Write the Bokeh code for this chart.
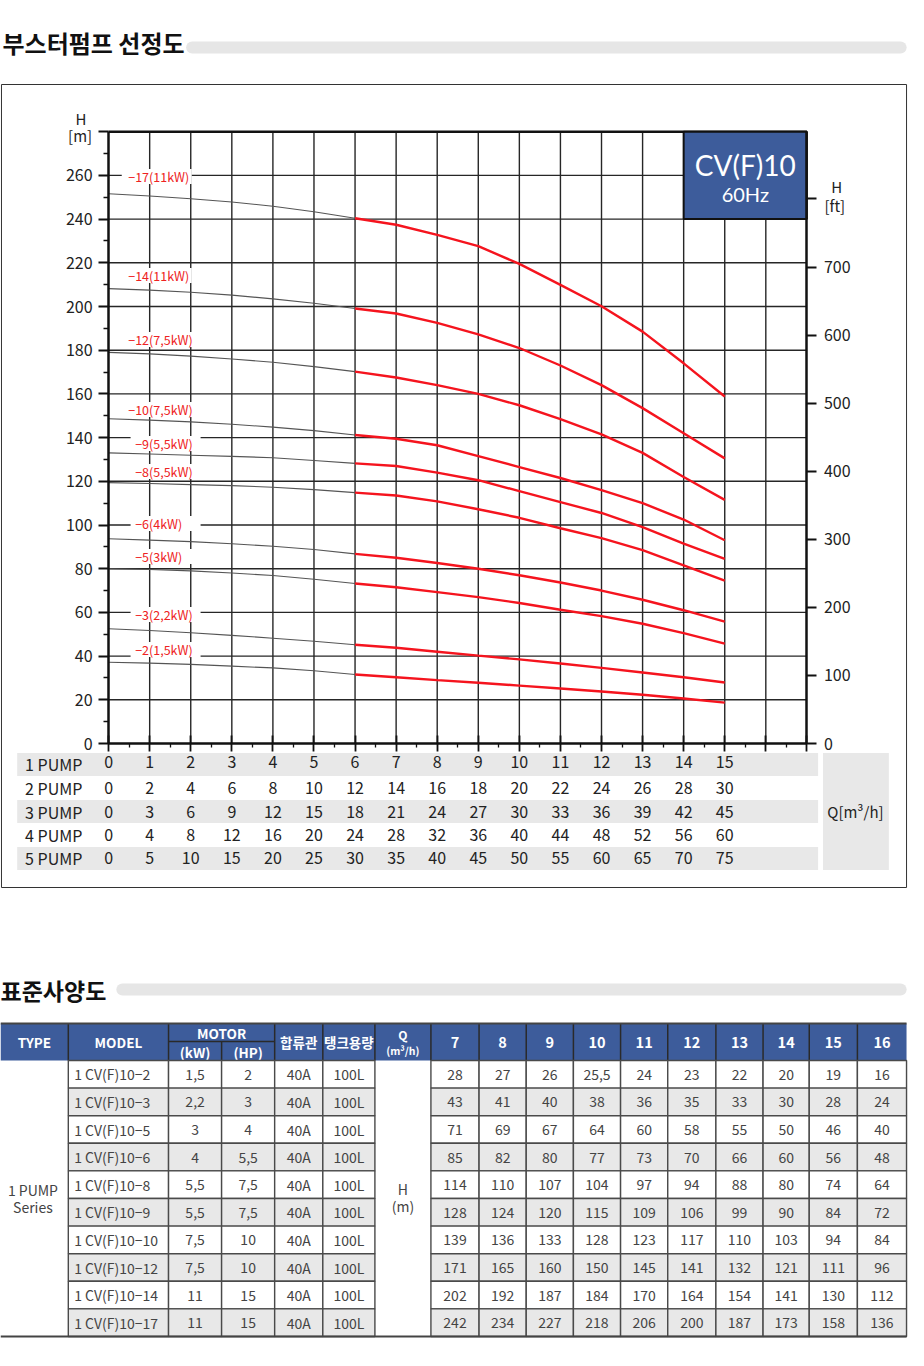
from bokeh.plotting import figure
from bokeh.models import Range1d, LinearAxis, FixedTicker
from bokeh.layouts import column
from bokeh.embed import file_html
from bokeh.resources import INLINE
from bokeh.core.properties import value

FONT = "Noto Sans CJK KR"
BOX_FONT = "Lato"

# ---------------- data ----------------
q_axis_ticks = [0, 1, 2, 3, 4, 5, 6, 7, 8, 9, 10, 11, 12, 13, 14, 15, 16, 17]
q_minor_ticks = [0.5, 1.5, 2.5, 3.5, 4.5, 5.5, 6.5, 7.5, 8.5, 9.5, 10.5, 11.5, 12.5, 13.5, 14.5, 15.5, 16.5]
h_m_ticks = [0, 20, 40, 60, 80, 100, 120, 140, 160, 180, 200, 220, 240, 260, 280]
h_m_minor = [10, 30, 50, 70, 90, 110, 130, 150, 170, 190, 210, 230, 250, 270]
h_ft_ticks = [0, 100, 200, 300, 400, 500, 600, 700, 800]

pump_labels = ["1 PUMP", "2 PUMP", "3 PUMP", "4 PUMP", "5 PUMP"]
pump1_q = [0, 1, 2, 3, 4, 5, 6, 7, 8, 9, 10, 11, 12, 13, 14, 15]
pump2_q = [0, 2, 4, 6, 8, 10, 12, 14, 16, 18, 20, 22, 24, 26, 28, 30]
pump3_q = [0, 3, 6, 9, 12, 15, 18, 21, 24, 27, 30, 33, 36, 39, 42, 45]
pump4_q = [0, 4, 8, 12, 16, 20, 24, 28, 32, 36, 40, 44, 48, 52, 56, 60]
pump5_q = [0, 5, 10, 15, 20, 25, 30, 35, 40, 45, 50, 55, 60, 65, 70, 75]

q_low = [0, 1, 2, 3, 4, 5, 6]
q_high = [6, 7, 8, 9, 10, 11, 12, 13, 14, 15]

h17_low = [251.6, 250.6, 249.3, 247.8, 245.9, 243.4, 240.4]
h17_high = [240.4, 237.4, 232.8, 227.6, 219.5, 209.9, 200.1, 188.5, 174.0, 158.8]
h14_low = [208.2, 207.5, 206.5, 205.2, 203.5, 201.5, 199.1]
h14_high = [199.1, 196.8, 192.5, 187.2, 181.0, 173.0, 164.0, 153.5, 142.0, 130.5]
h12_low = [179.0, 178.3, 177.3, 176.0, 174.5, 172.5, 170.2]
h12_high = [170.2, 167.5, 164.0, 160.0, 154.8, 148.5, 141.5, 133.0, 122.0, 111.5]
h10_low = [148.6, 148.0, 147.2, 146.1, 144.8, 143.2, 141.2]
h10_high = [141.2, 139.5, 136.5, 131.5, 126.5, 121.5, 116.0, 110.0, 102.5, 93.0]
h9_low = [133.0, 132.5, 131.9, 131.4, 130.8, 129.5, 128.2]
h9_high = [128.2, 127.0, 124.0, 120.5, 115.5, 110.5, 105.5, 99.0, 91.5, 84.5]
h8_low = [119.4, 119.0, 118.5, 118.0, 117.3, 116.2, 114.8]
h8_high = [114.8, 113.5, 110.8, 107.2, 103.3, 98.5, 94.0, 88.5, 81.5, 74.5]
h6_low = [93.7, 93.1, 92.4, 91.4, 90.3, 88.8, 86.8]
h6_high = [86.8, 85.0, 82.6, 80.0, 77.0, 73.7, 70.0, 65.8, 61.0, 55.8]
h5_low = [80.0, 79.6, 79.0, 78.0, 76.9, 75.2, 73.2]
h5_high = [73.2, 71.5, 69.3, 67.0, 64.3, 61.2, 58.3, 54.8, 50.5, 45.7]
h3_low = [52.5, 51.7, 50.7, 49.5, 48.2, 46.8, 45.2]
h3_high = [45.2, 43.8, 42.0, 40.2, 38.5, 36.6, 34.6, 32.5, 30.3, 27.9]
h2_low = [37.2, 36.8, 36.2, 35.4, 34.6, 33.3, 31.6]
h2_high = [31.6, 30.3, 29.0, 27.8, 26.5, 25.2, 23.8, 22.3, 20.6, 18.7]

curve_labels = ["−17(11kW)", "−14(11kW)", "−12(7,5kW)", "−10(7,5kW)", "−9(5,5kW)",
                "−8(5,5kW)", "−6(4kW)", "−5(3kW)", "−3(2,2kW)", "−2(1,5kW)"]

# table data
tbl_models = ["1 CV(F)10−2", "1 CV(F)10−3", "1 CV(F)10−5", "1 CV(F)10−6", "1 CV(F)10−8",
              "1 CV(F)10−9", "1 CV(F)10−10", "1 CV(F)10−12", "1 CV(F)10−14", "1 CV(F)10−17"]
tbl_kw = ["1,5", "2,2", "3", "4", "5,5", "5,5", "7,5", "7,5", "11", "11"]
tbl_hp = ["2", "3", "4", "5,5", "7,5", "7,5", "10", "10", "15", "15"]
tbl_pipe = ["40A"] * 10
tbl_tank = ["100L"] * 10
tbl_q = ["7", "8", "9", "10", "11", "12", "13", "14", "15", "16"]
tbl_h2 = ["28", "27", "26", "25,5", "24", "23", "22", "20", "19", "16"]
tbl_h3 = ["43", "41", "40", "38", "36", "35", "33", "30", "28", "24"]
tbl_h5 = ["71", "69", "67", "64", "60", "58", "55", "50", "46", "40"]
tbl_h6 = ["85", "82", "80", "77", "73", "70", "66", "60", "56", "48"]
tbl_h8 = ["114", "110", "107", "104", "97", "94", "88", "80", "74", "64"]
tbl_h9 = ["128", "124", "120", "115", "109", "106", "99", "90", "84", "72"]
tbl_h10 = ["139", "136", "133", "128", "123", "117", "110", "103", "94", "84"]
tbl_h12 = ["171", "165", "160", "150", "145", "141", "132", "121", "111", "96"]
tbl_h14 = ["202", "192", "187", "184", "170", "164", "154", "141", "130", "112"]
tbl_h17 = ["242", "234", "227", "218", "206", "200", "187", "173", "158", "136"]

# ---------------- layout helpers ----------------
W = 908
H1 = 905
QPX0, QPX, HPX0, HPX = 110.0, 41.8, 743.0, 2.185
FT_PER_M = 3.21
BLUE = "#3d5c9b"
RED = "#f5141e"
GREY_BG = "#e8e8e8"


def qx(px):
    return (px - QPX0) / QPX


def hy(py):
    return (HPX0 - py) / HPX


# ---------------- figure 1: chart ----------------
p = figure(width=W, height=H1, x_range=Range1d(qx(0), qx(924)), y_range=Range1d(hy(H1), hy(0)),
           x_axis_type=None, y_axis_type=None, output_backend="svg", toolbar_location=None,
           min_border=0, min_border_left=0, min_border_right=0, min_border_top=0, min_border_bottom=0,
           outline_line_color=None, background_fill_color="white", border_fill_color="white")
p.extra_y_ranges = {"ft": Range1d(hy(H1) * FT_PER_M, hy(0) * FT_PER_M)}

# heading
p.text(x=[qx(2)], y=[hy(42)], text=["부스터펌프 선정도"], text_font=value(FONT), text_font_size="24px",
       text_font_style="bold", text_color="#111111", text_baseline="middle", text_align="left")
p.line(x=[qx(195), qx(916)], y=[hy(47), hy(47)], line_width=12, line_color="#e6e6e6", line_cap="round")

# outer box
p.quad(left=[qx(1)], right=[qx(922)], top=[hy(84)], bottom=[hy(887)], fill_color=None,
       line_color="#333333", line_width=1)

# x-table bands
band_tops = [752.5, 799.5, 846.5]
p.quad(left=[qx(17)] * 3, right=[qx(832)] * 3, top=[hy(t) for t in band_tops],
       bottom=[hy(t + 23) for t in band_tops], fill_color=GREY_BG, line_color=None)
p.quad(left=[qx(837)], right=[qx(904)], top=[hy(752.5)], bottom=[hy(869.5)], fill_color=GREY_BG, line_color=None)

# grid
vg = q_axis_ticks[1:-1]
p.segment(x0=vg, y0=[h_m_ticks[0]] * len(vg), x1=vg, y1=[h_m_ticks[-1]] * len(vg), line_color="#262626", line_width=1.4)
hg = h_m_ticks[1:-1]
p.segment(x0=[q_axis_ticks[0]] * len(hg), y0=hg, x1=[q_axis_ticks[-1]] * len(hg), y1=hg, line_color="#262626", line_width=1.4)
p.line(x=[q_axis_ticks[0], q_axis_ticks[-1]], y=[h_m_ticks[-1], h_m_ticks[-1]], line_color="#111111", line_width=2.5)

# curves
lows = [h17_low, h14_low, h12_low, h10_low, h9_low, h8_low, h6_low, h5_low, h3_low, h2_low]
highs = [h17_high, h14_high, h12_high, h10_high, h9_high, h8_high, h6_high, h5_high, h3_high, h2_high]
for lo, hi in zip(lows, highs):
    p.line(x=q_low, y=lo, line_color="#555555", line_width=1.1)
    p.line(x=q_high, y=hi, line_color=RED, line_width=2.4)

# curve labels (positions in reference pixels); white boxes hide the grid behind them
lab_x = [130, 130, 130, 130, 137, 137, 137, 137, 137, 137]
lab_y = [176, 275, 339, 409, 443, 471, 523, 556, 614, 649]
lab_box_x = [159, 159, 160, 161, 168, 168, 168, 168, 168, 168]
p.rect(x=[qx(v) for v in lab_box_x], y=[hy(v) for v in lab_y], width=70, height=15,
       width_units="screen", height_units="screen", fill_color="white", line_color=None)
p.text(x=[qx(v) for v in lab_x], y=[hy(v) for v in lab_y], text=curve_labels, text_font=value(FONT),
       text_font_size="12.5px", text_color="#ee2222", text_baseline="middle", text_align="left")

# model box
p.quad(left=[14], right=[17], top=[280], bottom=[240], fill_color=BLUE, line_color="#111111", line_width=2)
p.text(x=[15.5], y=[hy(164)], text=["CV(F)10"], text_font=value(BOX_FONT), text_font_size="28px",
       text_color="white", text_align="center", text_baseline="middle")
p.text(x=[15.5], y=[hy(193)], text=["60Hz"], text_font=value(BOX_FONT), text_font_size="20px",
       text_color="white", text_align="center", text_baseline="middle")

# axes
axis_style = dict(axis_line_color="#111111", axis_line_width=2.5, major_tick_line_color="#111111",
                  minor_tick_line_color="#111111", major_tick_line_width=1.8, minor_tick_line_width=1.3,
                  major_label_text_font=FONT, major_label_text_font_size="16px",
                  major_label_text_color="#222222")
left_ax = LinearAxis(fixed_location=0, bounds=(0, 280),
                     ticker=FixedTicker(ticks=h_m_ticks, minor_ticks=h_m_minor),
                     major_label_overrides={280: ""}, major_tick_out=10, major_tick_in=0,
                     minor_tick_out=5, minor_tick_in=0, major_label_standoff=6, **axis_style)
p.add_layout(left_ax, "left")

bottom_ax = LinearAxis(fixed_location=0, bounds=(0, 17),
                       ticker=FixedTicker(ticks=q_axis_ticks, minor_ticks=q_minor_ticks),
                       major_label_overrides={**{q: str(v) for q, v in zip(q_axis_ticks, pump1_q)}, 16: "", 17: ""},
                       major_tick_out=8, major_tick_in=8, minor_tick_out=4, minor_tick_in=0,
                       major_label_standoff=4, **axis_style)
p.add_layout(bottom_ax, "below")

right_ax = LinearAxis(y_range_name="ft", fixed_location=17, bounds=(0, 280 * FT_PER_M),
                      ticker=FixedTicker(ticks=h_ft_ticks), major_label_overrides={800: ""},
                      major_tick_out=10, major_tick_in=0, minor_tick_out=0, minor_tick_in=0,
                      major_label_standoff=7, **axis_style)
p.add_layout(right_ax, "right")

# axis titles
p.text(x=[qx(82), qx(81)], y=[hy(118), hy(135)], text=["H", "[m]"], text_font=value(FONT),
       text_font_size="15px", text_color="#222222", text_align="center", text_baseline="middle")
p.text(x=[qx(851), qx(849)], y=[hy(186), hy(205)], text=["H", "[ft]"], text_font=value(FONT),
       text_font_size="15px", text_color="#222222", text_align="center", text_baseline="middle")

# x-table
row_y = [763, 787, 811, 834, 857]
p.text(x=[qx(25)] * 5, y=[hy(v) for v in row_y], text=pump_labels, text_font=value(FONT),
       text_font_size="16px", text_color="#222222", text_align="left", text_baseline="middle")
for vals, ry in zip([pump2_q, pump3_q, pump4_q, pump5_q], row_y[1:]):
    p.text(x=pump1_q, y=[hy(ry)] * len(vals), text=[str(v) for v in vals], text_font=value(FONT),
           text_font_size="16px", text_color="#222222", text_align="center", text_baseline="middle")
p.text(x=[qx(870)], y=[hy(811)], text=["Q[m³/h]"], text_font=value(FONT), text_font_size="15px",
       text_color="#222222", text_align="center", text_baseline="middle")

# ---------------- figure 2: spec table ----------------
Y0, Y1 = 905, 1345
t = figure(width=W, height=Y1 - Y0, x_range=Range1d(0, 924), y_range=Range1d(Y1, Y0),
           x_axis_type=None, y_axis_type=None, output_backend="svg", toolbar_location=None,
           min_border=0, min_border_left=0, min_border_right=0, min_border_top=0, min_border_bottom=0,
           outline_line_color=None, background_fill_color="white", border_fill_color="white")

t.text(x=[0], y=[989], text=["표준사양도"], text_font=value(FONT), text_font_size="23px",
       text_font_style="bold", text_color="#111111", text_baseline="middle", text_align="left")
t.line(x=[124, 916], y=[989, 989], line_width=12, line_color="#e6e6e6", line_cap="round")

col_edges = [0, 69, 171, 225, 279, 328, 381, 438, 487, 535, 583, 631, 679, 728, 776, 823, 872, 922]
HT, HB, HM = 1023, 1060, 1041
ROW_H = (1336 - HB) / 10.0
row_edges = [HB + i * ROW_H for i in range(11)]

# header
t.quad(left=[0], right=[922], top=[HT], bottom=[HB], fill_color=BLUE, line_color=None)
hdr_sep = [c for c in col_edges[1:-1] if c != 225]
t.segment(x0=hdr_sep, y0=[HT] * len(hdr_sep), x1=hdr_sep, y1=[HB] * len(hdr_sep), line_color="#2a2a2a", line_width=1.5)
t.segment(x0=[225, 171], y0=[HM, HM], x1=[225, 279], y1=[HB, HM], line_color="#2a2a2a", line_width=1.5)

hdr_style = dict(text_font=value(FONT), text_color="white", text_font_style="bold",
                 text_align="center", text_baseline="middle")
t.text(x=[34.5, 120, 303.5, 354.5], y=[HT + 18.5] * 4, text=["TYPE", "MODEL", "합류관", "탱크용량"],
       text_font_size="13.5px", **hdr_style)
t.text(x=[225], y=[1032.5], text=["MOTOR"], text_font_size="13.5px", **hdr_style)
t.text(x=[198, 252], y=[1051, 1051], text=["(kW)", "(HP)"], text_font_size="13.5px", **hdr_style)
t.text(x=[409.5], y=[1034], text=["Q"], text_font_size="12px", **hdr_style)
t.text(x=[409.5], y=[1050], text=["(m³/h)"], text_font_size="10.5px", **hdr_style)
qcent = [(a + b) / 2 for a, b in zip(col_edges[7:-1], col_edges[8:])]
t.text(x=qcent, y=[HT + 18.5] * len(qcent), text=tbl_q, text_font_size="14.5px", **hdr_style)

# body cells
cell_l, cell_r, cell_t, cell_b, cell_c = [], [], [], [], []
for i in range(10):
    fill = GREY_BG if i % 2 == 1 else "white"
    for ci in list(range(1, 6)) + list(range(7, 17)):
        cell_l.append(col_edges[ci])
        cell_r.append(col_edges[ci + 1])
        cell_t.append(row_edges[i])
        cell_b.append(row_edges[i + 1])
        cell_c.append(fill)
t.quad(left=cell_l, right=cell_r, top=cell_t, bottom=cell_b, fill_color=cell_c,
       line_color="#4a4a4a", line_width=1.4)
t.segment(x0=[0, 0], y0=[HT, 1336], x1=[922, 922], y1=[HT, 1336], line_color="#444444", line_width=2)

body_style = dict(text_font=value(FONT), text_color="#444444", text_font_size="14px", text_baseline="middle")
rc = [(a + b) / 2 for a, b in zip(row_edges[:-1], row_edges[1:])]
t.text(x=[75] * 10, y=rc, text=tbl_models, text_align="left", **body_style)
for ci, vals in zip([2, 3, 4, 5], [tbl_kw, tbl_hp, tbl_pipe, tbl_tank]):
    cx = (col_edges[ci] + col_edges[ci + 1]) / 2
    t.text(x=[cx] * 10, y=rc, text=vals, text_align="center", **body_style)
h_rows = [tbl_h2, tbl_h3, tbl_h5, tbl_h6, tbl_h8, tbl_h9, tbl_h10, tbl_h12, tbl_h14, tbl_h17]
for vals, ry in zip(h_rows, rc):
    t.text(x=qcent, y=[ry] * len(vals), text=vals, text_align="center", **body_style)
t.text(x=[33, 33], y=[1189, 1206], text=["1 PUMP", "Series"], text_align="center", **body_style)
t.text(x=[409.5, 409.5], y=[1188, 1205], text=["H", "(m)"], text_align="center", **body_style)

layout = column(p, t, spacing=0)
open("out.html", "w").write(file_html(layout, INLINE))
